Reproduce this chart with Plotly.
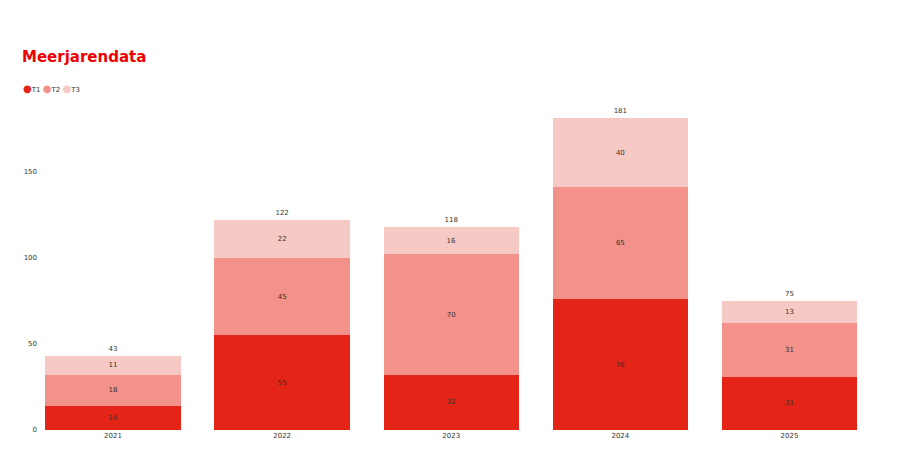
import plotly.graph_objects as go

years = ['2021', '2022', '2023', '2024', '2025']
t1 = [14, 55, 32, 76, 31]
t2 = [18, 45, 70, 65, 31]
t3 = [11, 22, 16, 40, 13]

series = [('T1', t1, '#e32416'), ('T2', t2, '#f2928a'), ('T3', t3, '#f7c9c5')]
totals = [a + b + c for a, b, c in zip(t1, t2, t3)]

fig = go.Figure()

for name, vals, color in series:
    fig.add_trace(go.Bar(
        x=years, y=vals, name=name,
        marker=dict(color=color, line=dict(width=0)),
        text=vals, textposition='inside', insidetextanchor='middle',
        textfont=dict(size=7, color='#333333'),
        hoverinfo='y+name'
    ))

# totals above each stack (invisible marker pushes text up a bit)
fig.add_trace(go.Scatter(
    x=years, y=totals, mode='markers+text', text=totals,
    marker=dict(size=4, color='rgba(0,0,0,0)'),
    textposition='top center', textfont=dict(size=7, color='#333333'),
    showlegend=False, hoverinfo='skip'
))

# legend as one line of text with coloured dots
legend_text = ''.join(
    '<span style="color:{};font-size:10px">●</span>{} '.format(color, name)
    for name, vals, color in series
)
fig.add_annotation(
    text=legend_text, xref='paper', yref='paper', x=-0.025, y=1.043,
    xanchor='left', yanchor='middle', showarrow=False,
    font=dict(size=7, color='#333333')
)

fig.update_layout(
    barmode='stack',
    bargap=0.2,
    showlegend=False,
    width=897, height=451,
    paper_bgcolor='white', plot_bgcolor='white',
    font=dict(family='DejaVu Sans', size=7, color='#333333'),
    title=dict(text='<b>Meerjarendata</b>', x=14 / 897, xanchor='left',
               y=1 - 49 / 451, yanchor='middle',
               font=dict(size=15, color='#ee0000')),
    margin=dict(l=34, r=31, t=95, b=29),
    xaxis=dict(range=[-0.42, 4.5], showgrid=False, showline=False, ticks='',
               tickfont=dict(size=7)),
    yaxis=dict(range=[0, 190], showgrid=False, zeroline=False, showline=False,
               tickvals=[0, 50, 100, 150], tickfont=dict(size=7), ticklabelstandoff=4),
)

fig.write_html('out.html')
